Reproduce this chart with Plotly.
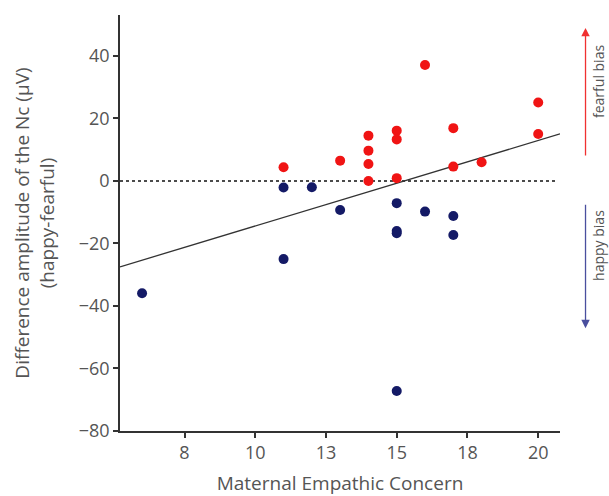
import numpy as np
import plotly.graph_objects as go

# Maternal empathic concern scores and Nc amplitude differences (happy - fearful)
fearful_x = [11, 13, 14, 14, 14, 14, 15, 15, 15, 16, 17, 17, 18, 20, 20]
fearful_y = [4.4, 6.5, 14.5, 9.7, 5.4, 0.0, 16.1, 13.3, 0.9, 37.1, 16.9, 4.6, 6.0, 25.1, 15.0]

happy_x = [6, 11, 11, 12, 13, 15, 15, 15, 15, 16, 17, 17]
happy_y = [-35.9, -2.1, -25.0, -2.0, -9.3, -7.1, -16.0, -16.7, -67.2, -9.8, -11.2, -17.3]

x_ticks = [7.5, 10, 12.5, 15, 17.5, 20]
x_tick_labels = ["8", "10", "13", "15", "18", "20"]
y_ticks = [-80, -60, -40, -20, 0, 20, 40]

x_range = [5.22, 20.77]
y_range = [-80, 53.1]

# Least-squares fit across all participants
all_x = np.array(fearful_x + happy_x, dtype=float)
all_y = np.array(fearful_y + happy_y, dtype=float)
slope, intercept = np.polyfit(all_x, all_y, 1)
fit_x = np.array(x_range)
fit_y = slope * fit_x + intercept

FONT = "Open Sans"
GREY = "#555555"

fig = go.Figure()

fig.add_trace(go.Scatter(
    x=fit_x, y=fit_y, mode="lines",
    line=dict(color="#333333", width=1.3),
    hoverinfo="skip", showlegend=False,
))
fig.add_trace(go.Scatter(
    x=fearful_x, y=fearful_y, mode="markers",
    marker=dict(color="#f01414", size=10, line=dict(width=0)),
    name="fearful bias", showlegend=False,
))
fig.add_trace(go.Scatter(
    x=happy_x, y=happy_y, mode="markers",
    marker=dict(color="#141a66", size=10, line=dict(width=0)),
    name="happy bias", showlegend=False,
))

# Dotted reference line at zero difference
fig.add_shape(type="line", xref="paper", yref="y", x0=0, x1=0.99, y0=0, y1=0,
              line=dict(color="#111111", width=1.6, dash="dot"), layer="below")

# Direction arrows to the right of the plot
fig.add_annotation(xref="paper", yref="paper", x=1.058, y=0.969,
                   ax=0, ay=129, axref="pixel", ayref="pixel",
                   showarrow=True, arrowhead=2, arrowsize=1.3, arrowwidth=1.3,
                   arrowcolor="#f03030", text="")
fig.add_annotation(xref="paper", yref="paper", x=1.058, y=0.247,
                   ax=0, ay=-125, axref="pixel", ayref="pixel",
                   showarrow=True, arrowhead=2, arrowsize=1.3, arrowwidth=1.3,
                   arrowcolor="#4a4f9e", text="")
fig.add_annotation(xref="paper", yref="paper", x=1.086, y=0.841,
                   xanchor="center", yanchor="middle",
                   text="fearful bias", textangle=-90, showarrow=False,
                   font=dict(family=FONT, size=14, color=GREY))
fig.add_annotation(xref="paper", yref="paper", x=1.086, y=0.447,
                   xanchor="center", yanchor="middle",
                   text="happy bias", textangle=-90, showarrow=False,
                   font=dict(family=FONT, size=14, color=GREY))

fig.update_xaxes(
    range=x_range, tickvals=x_ticks, ticktext=x_tick_labels,
    showline=True, linecolor="#333333", linewidth=1.5,
    ticks="outside", ticklen=5, tickwidth=1.5, tickcolor="#333333",
    showgrid=False, zeroline=False, automargin=False,
    tickfont=dict(family=FONT, size=18, color=GREY),
    title=dict(text="Maternal Empathic Concern", standoff=16,
               font=dict(family=FONT, size=19, color=GREY)),
)
fig.update_yaxes(
    range=y_range, tickvals=y_ticks,
    showline=True, linecolor="#333333", linewidth=1.5,
    ticks="outside", ticklen=5, tickwidth=1.5, tickcolor="#333333",
    showgrid=False, zeroline=False, automargin=False,
    tickfont=dict(family=FONT, size=18, color=GREY),
    title=dict(text="Difference amplitude of the Nc (µV)<br>(happy-fearful)",
               standoff=19, font=dict(family=FONT, size=19, color=GREY)),
)

fig.update_layout(
    width=609, height=496,
    margin=dict(l=120, r=49, t=15, b=65),
    paper_bgcolor="white", plot_bgcolor="white",
    showlegend=False,
)

fig.write_html("out.html")
